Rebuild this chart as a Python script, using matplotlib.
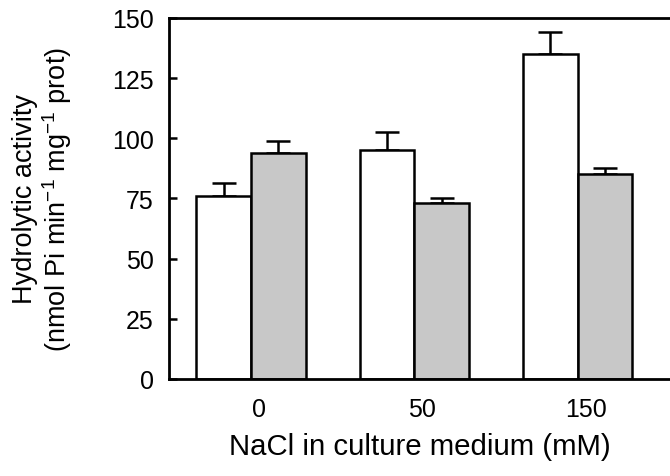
import matplotlib
matplotlib.use("Agg")
import matplotlib.pyplot as plt
import numpy as np

plt.rcParams['font.family'] = ['Liberation Sans', 'DejaVu Sans']
plt.rcParams['mathtext.fontset'] = 'custom'
plt.rcParams['mathtext.rm'] = 'Liberation Sans'

# NaCl concentrations and hydrolytic activity per condition
nacl_labels = ['0', '50', '150']
white_values = [76, 95, 135]
white_errors = [5.5, 7.5, 9]
gray_values = [94, 73, 85]
gray_errors = [5, 2.3, 2.8]
y_ticks = [0, 25, 50, 75, 100, 125, 150]

fig = plt.figure(figsize=(6.7, 4.77), dpi=100)
ax = fig.add_axes([0.2522, 0.2034, 0.7478, 0.7568])

x = np.arange(len(nacl_labels))
width = 0.335
lw = 1.8

ax.bar(x - width / 2, white_values, width, color='white', edgecolor='black',
       linewidth=lw, zorder=2)
ax.bar(x + width / 2, gray_values, width, color='#c8c8c8', edgecolor='black',
       linewidth=lw, zorder=2)
ax.errorbar(x - width / 2, white_values, yerr=[np.zeros(3), white_errors],
            fmt='none', ecolor='black', elinewidth=lw, capsize=8.5,
            capthick=lw, zorder=1)
ax.errorbar(x + width / 2, gray_values, yerr=[np.zeros(3), gray_errors],
            fmt='none', ecolor='black', elinewidth=lw, capsize=8.5,
            capthick=lw, zorder=1)

ax.set_xlim(-0.502, 2.566)
ax.set_ylim(0, 150)
ax.set_yticks(y_ticks)
ax.set_xticks(x + 0.05)
ax.set_xticklabels(nacl_labels)

for side in ['left', 'top', 'bottom']:
    ax.spines[side].set_linewidth(2.0)
ax.spines['right'].set_visible(False)

ax.tick_params(axis='y', direction='in', length=6, width=1.8, labelsize=18, pad=11)
ax.tick_params(axis='x', length=0, labelsize=18, pad=13)

ax.set_xlabel('NaCl in culture medium (mM)', fontsize=21.2, labelpad=8)
ax.set_ylabel('Hydrolytic activity\n'
              r'(nmol Pi min$^{\mathregular{-1}}$ mg$^{\mathregular{-1}}$ prot)',
              fontsize=19.5, labelpad=27, linespacing=1.1)

fig.savefig('out.png', dpi=100)
